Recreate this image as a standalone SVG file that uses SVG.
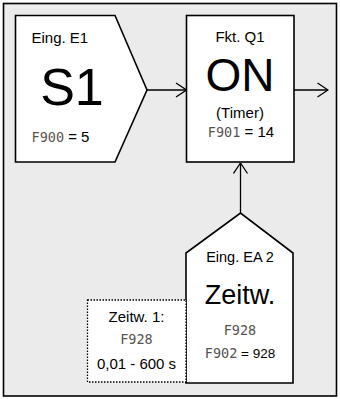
<svg xmlns="http://www.w3.org/2000/svg" width="340" height="399" viewBox="0 0 340 399">
<style>
.node{fill:#fff;stroke:#000;stroke-width:1.6}
.t{font-family:"Liberation Sans",Arial,sans-serif;fill:#000}
.seg{font-family:"DejaVu Sans Mono",monospace;fill:#555;font-size:13.5px}
.c{text-anchor:middle}
.conn{stroke:#000;stroke-width:1.3;fill:none}
</style>
<defs>
<marker id="ah" viewBox="0 0 12 16" refX="11.5" refY="8" markerWidth="12" markerHeight="16" markerUnits="userSpaceOnUse" orient="auto">
<path d="M1,1 L11.5,8 L1,15" fill="none" stroke="#000" stroke-width="1.3"/>
</marker>
</defs>
<rect x="3.5" y="3.5" width="333" height="392.5" fill="#ebebeb" stroke="#000" stroke-width="1.6"/>
<g id="connectors">
<line class="conn" x1="147" y1="90" x2="186.5" y2="90" marker-end="url(#ah)"/>
<line class="conn" x1="294" y1="90" x2="328" y2="90" marker-end="url(#ah)"/>
<line class="conn" x1="240.5" y1="213" x2="240.5" y2="163" marker-end="url(#ah)"/>
</g>
<g id="E1">
<polygon class="node" points="15.5,15.5 115,15.5 147,90 115,162 15.5,162"/>
<text class="t" x="31.5" y="43" font-size="15">Eing. E1</text>
<text class="t" x="72" y="105" font-size="52" text-anchor="middle">S1</text>
<text x="31.5" y="142"><tspan class="seg">F900</tspan><tspan class="t" font-size="15"> = 5</tspan></text>
</g>
<g id="Q1">
<rect class="node" x="186.5" y="15.5" width="107.5" height="146.5"/>
<text class="t c" x="240" y="42" font-size="15">Fkt. Q1</text>
<text class="t c" x="240" y="91" font-size="46">ON</text>
<text class="t c" x="240" y="118" font-size="15">(Timer)</text>
<text class="c" x="241" y="137"><tspan class="seg">F901</tspan><tspan class="t" font-size="15"> = 14</tspan></text>
</g>
<g id="EA2">
<polygon class="node" points="186,383 186,253 240.5,213 293,253 293,383"/>
<text class="t c" x="240" y="262" font-size="14.5">Eing. EA 2</text>
<text class="t c" x="240" y="304" font-size="27">Zeitw.</text>
<text class="seg c" x="240" y="335">F928</text>
<text class="c" x="240" y="358"><tspan class="seg">F902</tspan><tspan class="t" font-size="13.5"> = 928</tspan></text>
</g>
<g id="Zeitw1">
<rect x="87.5" y="300" width="98.5" height="82" fill="#fff" stroke="#000" stroke-width="1.3" stroke-dasharray="1.5,1.5"/>
<text class="t c" x="136.5" y="322" font-size="15">Zeitw. 1:</text>
<text class="seg c" x="136.5" y="344">F928</text>
<text class="t c" x="136.5" y="369" font-size="15">0,01 - 600 s</text>
</g>
</svg>
